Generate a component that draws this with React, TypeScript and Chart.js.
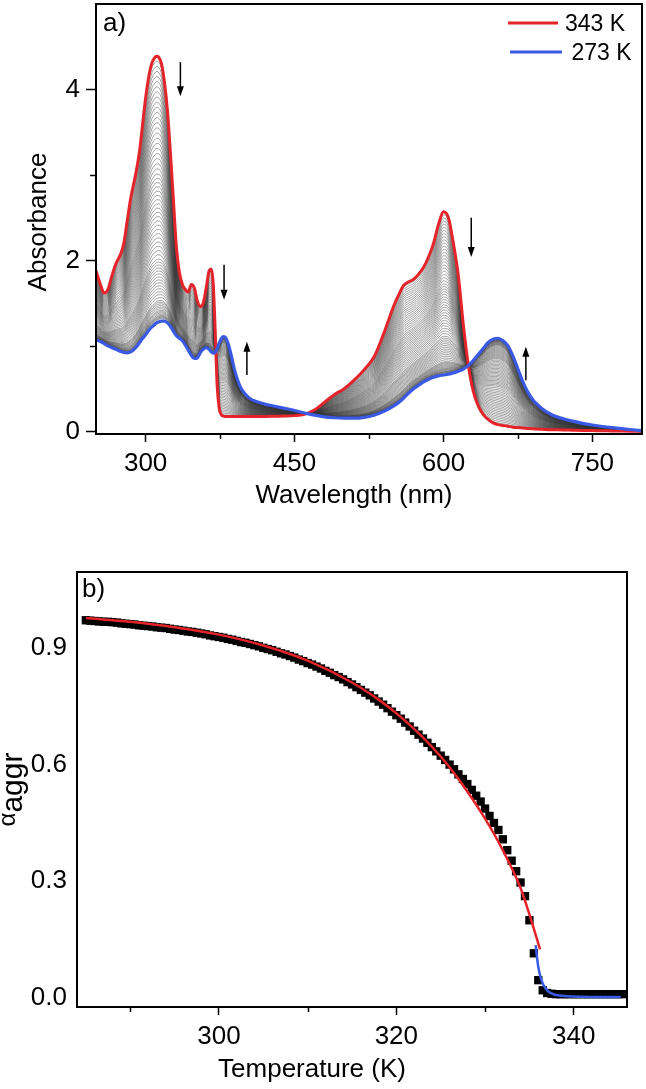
import React, { useEffect, useRef } from "react";
import { Chart, registerables } from "chart.js";

Chart.register(...registerables);

const FONT = "'Liberation Sans', Arial, Helvetica, sans-serif";

// ---------------- panel a : UV-vis spectra ----------------
const wavelengthNm = [
  250, 255, 258, 262, 266, 270, 275, 278, 281, 285, 290, 294, 297, 300, 303, 306, 309, 311, 313, 316,
  319, 322, 325, 328, 331, 334, 337, 340, 343, 346, 349, 352, 355, 358, 361, 364, 366, 368, 370, 372,
  374, 376, 378, 380, 383, 386, 390, 395, 400, 405, 410, 420, 430, 440, 450, 460, 470, 480, 490, 500,
  510, 520, 530, 540, 550, 555, 560, 565, 570, 575, 580, 585, 590, 595, 600, 605, 610, 615, 620, 625,
  630, 635, 640, 645, 650, 655, 660, 665, 670, 675, 680, 685, 690, 695, 700, 710, 720, 730, 740, 750,
  760, 770, 780, 790, 800,
];
const absorbance343K = [
  1.88, 1.7, 1.62, 1.66, 1.82, 1.96, 2.08, 2.2, 2.43, 2.73, 3.01, 3.29, 3.6, 3.9, 4.14, 4.3, 4.37, 4.39, 4.38, 4.3,
  4.08, 3.75, 3.25, 2.7, 2.15, 1.86, 1.72, 1.66, 1.63, 1.72, 1.68, 1.53, 1.46, 1.5, 1.68, 1.88, 1.9, 1.74, 1.2, 0.55,
  0.28, 0.2, 0.18, 0.175, 0.175, 0.175, 0.175, 0.175, 0.175, 0.175, 0.175, 0.175, 0.178, 0.18, 0.185, 0.2, 0.25, 0.34, 0.43, 0.5,
  0.6, 0.72, 0.87, 1.15, 1.47, 1.6, 1.71, 1.75, 1.78, 1.84, 1.92, 2.04, 2.2, 2.42, 2.57, 2.5, 2.2, 1.82, 1.25, 0.78,
  0.47, 0.3, 0.2, 0.14, 0.1, 0.08, 0.07, 0.06, 0.05, 0.045, 0.04, 0.035, 0.03, 0.028, 0.025, 0.02, 0.018, 0.015, 0.012, 0.01,
  0.008, 0.006, 0.004, 0.002, 0.0,
];
const absorbance273K = [
  1.07, 1.05, 1.03, 1.0, 0.98, 0.96, 0.935, 0.925, 0.92, 0.93, 0.98, 1.04, 1.09, 1.13, 1.18, 1.22, 1.25, 1.27, 1.28, 1.29,
  1.29, 1.27, 1.23, 1.17, 1.12, 1.09, 1.06, 1.01, 0.95, 0.89, 0.855, 0.86, 0.92, 0.96, 0.98, 0.96, 0.93, 0.915, 0.925, 0.97,
  1.03, 1.08, 1.11, 1.105, 1.03, 0.9, 0.7, 0.53, 0.44, 0.385, 0.355, 0.32, 0.295, 0.27, 0.245, 0.215, 0.19, 0.17, 0.16, 0.155,
  0.155, 0.165, 0.19, 0.235, 0.3, 0.34, 0.39, 0.45, 0.5, 0.54, 0.58, 0.61, 0.635, 0.65, 0.66, 0.67, 0.685, 0.705, 0.73, 0.77,
  0.83, 0.9, 0.97, 1.04, 1.08, 1.09, 1.06, 1.0, 0.88, 0.73, 0.58, 0.46, 0.37, 0.31, 0.26, 0.19, 0.15, 0.12, 0.095, 0.075,
  0.058, 0.044, 0.032, 0.02, 0.01,
];
// absorbance at 311 nm of the intermediate (grey) spectra
const greyPeakAbs311 = [
  4.33, 4.27, 4.21, 4.15, 4.09, 4.03, 3.97, 3.91, 3.85, 3.79, 3.73, 3.67, 3.61, 3.55, 3.49, 3.43, 3.37, 3.31, 3.25, 3.19,
  3.13, 3.07, 3.01, 2.96, 2.91, 2.86, 2.81, 2.76, 2.71, 2.66, 2.61, 2.56, 2.51, 2.46, 2.41, 2.36, 2.31, 2.26, 2.21, 2.16,
  2.11, 2.06, 2.01, 1.975, 1.94, 1.905, 1.87, 1.835, 1.8, 1.765, 1.73, 1.695, 1.66, 1.625, 1.59, 1.555, 1.52, 1.5, 1.48, 1.46,
  1.44, 1.42, 1.4, 1.385, 1.37, 1.355, 1.34, 1.33, 1.32, 1.31, 1.3,
];
const legendLabelsA = ["343 K", " 273 K"];
const xTitleA = "Wavelength (nm)";
const yTitleA = "Absorbance";
const xTicksA = [300, 450, 600, 750];
const xMinorTicksA = [375, 525, 675];
const yTicksA = [0, 2, 4];
const yMinorTicksA = [1, 3];
const arrowNm = [335, 379, 402, 628, 683];
const arrowFromAbs = [4.32, 1.95, 0.66, 2.5, 0.6];
const arrowToAbs = [3.92, 1.54, 1.05, 2.04, 0.99];

// ---------------- panel b : degree of aggregation ----------------
const temperatureK = [
  285, 285.5, 286, 286.5, 287, 287.5, 288, 288.5, 289, 289.5,
  290, 290.5, 291, 291.5, 292, 292.5, 293, 293.5, 294, 294.5,
  295, 295.5, 296, 296.5, 297, 297.5, 298, 298.5, 299, 299.5,
  300, 300.5, 301, 301.5, 302, 302.5, 303, 303.5, 304, 304.5,
  305, 305.5, 306, 306.5, 307, 307.5, 308, 308.5, 309, 309.5,
  310, 310.5, 311, 311.5, 312, 312.5, 313, 313.5, 314, 314.5,
  315, 315.5, 316, 316.5, 317, 317.5, 318, 318.5, 319, 319.5,
  320, 320.5, 321, 321.5, 322, 322.5, 323, 323.5, 324, 324.5,
  325, 325.5, 326, 326.5, 327, 327.5, 328, 328.5, 329, 329.5,
  330, 330.5, 331, 331.5, 332, 332.5, 333, 333.5, 334, 334.5,
  335, 335.5, 336, 336.5, 337, 337.5, 338, 338.5, 339, 339.5,
  340, 340.5, 341, 341.5, 342, 342.5, 343, 343.5, 344, 344.5,
  345, 345.5,
];
const alphaAggr = [
  0.971, 0.97, 0.969, 0.968, 0.967, 0.967, 0.966, 0.965, 0.963, 0.962,
  0.961, 0.96, 0.958, 0.957, 0.956, 0.955, 0.953, 0.952, 0.951, 0.949,
  0.947, 0.946, 0.944, 0.942, 0.941, 0.939, 0.937, 0.935, 0.932, 0.93,
  0.928, 0.926, 0.923, 0.921, 0.918, 0.915, 0.913, 0.91, 0.907, 0.904,
  0.9, 0.897, 0.894, 0.89, 0.886, 0.883, 0.879, 0.875, 0.87, 0.866,
  0.861, 0.857, 0.852, 0.847, 0.841, 0.836, 0.83, 0.825, 0.819, 0.812,
  0.806, 0.799, 0.792, 0.785, 0.778, 0.77, 0.762, 0.754, 0.745, 0.736,
  0.727, 0.718, 0.708, 0.698, 0.687, 0.677, 0.667, 0.656, 0.645, 0.634,
  0.623, 0.612, 0.6, 0.588, 0.575, 0.563, 0.55, 0.535, 0.52, 0.505,
  0.487, 0.468, 0.45, 0.432, 0.408, 0.38, 0.353, 0.326, 0.297, 0.262,
  0.2, 0.115, 0.046, 0.02, 0.013, 0.011, 0.01, 0.01, 0.01, 0.01,
  0.01, 0.01, 0.01, 0.01, 0.01, 0.01, 0.01, 0.01, 0.01, 0.01,
  0.01, 0.01,
];
const fitElongationT = [285, 290, 295, 300, 305, 310, 315, 318, 320, 322, 324, 326, 328, 330, 332, 334, 335, 336.2];
const fitElongationAlpha = [0.977, 0.967, 0.953, 0.934, 0.906, 0.867, 0.811, 0.767, 0.732, 0.692, 0.646, 0.593, 0.531, 0.461, 0.38, 0.283, 0.215, 0.125];
const fitNucleationT = [335.7, 336, 336.3, 336.6, 337, 337.5, 338, 339, 340, 342, 345.3];
const fitNucleationAlpha = [0.136, 0.08, 0.05, 0.033, 0.02, 0.012, 0.008, 0.005, 0.004, 0.003, 0.003];
const xTitleB = "Temperature (K)";
const xTicksB = [300, 320, 340];
const xMinorTicksB = [290, 310, 330];
const yTicksB = [0, 0.3, 0.6, 0.9];

const RED = "#e3242b";
const BLUE = "#3a5ae4";
const FS = 26;

function frameAndMinor(chart: any, xMinor: number[], xLen: number, yMinor: number[], yLen: number) {
  const { ctx, chartArea: a } = chart;
  const xs = chart.scales.x;
  const ys = chart.scales.y;
  ctx.save();
  ctx.strokeStyle = "#000";
  ctx.lineWidth = 1.5;
  ctx.beginPath();
  xMinor.forEach((v) => {
    const px = Math.round(xs.getPixelForValue(v)) + 0.5;
    ctx.moveTo(px, a.bottom);
    ctx.lineTo(px, a.bottom + xLen);
  });
  yMinor.forEach((v) => {
    const py = Math.round(ys.getPixelForValue(v)) + 0.5;
    ctx.moveTo(a.left, py);
    ctx.lineTo(a.left - yLen, py);
  });
  ctx.stroke();
  ctx.lineWidth = 2;
  ctx.strokeRect(a.left, a.top, a.right - a.left, a.bottom - a.top);
  ctx.restore();
}

function tickSetter(values: number[]) {
  return (scale: any) => {
    scale.ticks = values.map((v) => ({ value: v }));
  };
}

function fitX(h: number) {
  return (s: any) => {
    s.height = h;
    s.paddingLeft = 0;
    s.paddingRight = 0;
  };
}
function fitY(w: number) {
  return (s: any) => {
    s.width = w;
    s.paddingTop = 0;
    s.paddingBottom = 0;
  };
}

export default function App() {
  const refA = useRef<HTMLCanvasElement>(null);
  const refB = useRef<HTMLCanvasElement>(null);

  useEffect(() => {
    Chart.defaults.font.family = FONT;
    Chart.defaults.color = "#000";

    // ---------- chart a ----------
    const i311 = wavelengthNm.indexOf(311);
    const span = absorbance343K[i311] - absorbance273K[i311];
    const greyDatasets = greyPeakAbs311.map((p) => {
      const f = (absorbance343K[i311] - p) / span; // fraction of the 273 K spectrum
      return {
        label: "",
        data: wavelengthNm.map((w, j) => ({
          x: w,
          y: f * absorbance273K[j] + (1 - f) * absorbance343K[j],
        })),
        borderColor: "rgba(50,50,50,0.75)",
        borderWidth: 0.6,
        pointRadius: 0,
        cubicInterpolationMode: "monotone" as const,
      };
    });

    const decorA = {
      id: "decorA",
      afterDatasetsDraw(chart: any) {
        const { ctx } = chart;
        const xs = chart.scales.x;
        const ys = chart.scales.y;
        frameAndMinor(chart, xMinorTicksA, 5, yMinorTicksA, 6);
        ctx.save();
        ctx.strokeStyle = "#000";
        ctx.fillStyle = "#000";
        ctx.lineWidth = 1.5;
        arrowNm.forEach((nm, i) => {
          const x = xs.getPixelForValue(nm);
          const y0 = ys.getPixelForValue(arrowFromAbs[i]);
          const y1 = ys.getPixelForValue(arrowToAbs[i]);
          const dir = y1 > y0 ? 1 : -1;
          ctx.beginPath();
          ctx.moveTo(x, y0);
          ctx.lineTo(x, y1 - dir * 8);
          ctx.stroke();
          ctx.beginPath();
          ctx.moveTo(x, y1);
          ctx.lineTo(x - 3.5, y1 - dir * 10);
          ctx.lineTo(x + 3.5, y1 - dir * 10);
          ctx.closePath();
          ctx.fill();
        });
        ctx.textBaseline = "alphabetic";
        ctx.textAlign = "left";
        ctx.font = `26px ${FONT}`;
        ctx.fillText("a)", 103, 31);
        // legend
        const colors = [RED, BLUE];
        const rows = [23, 52];
        ctx.font = `23px ${FONT}`;
        legendLabelsA.forEach((lab, i) => {
          ctx.strokeStyle = colors[i];
          ctx.lineWidth = 3;
          ctx.beginPath();
          ctx.moveTo(508 + i * 2, rows[i]);
          ctx.lineTo(558 + i * 4, rows[i]);
          ctx.stroke();
          ctx.fillStyle = "#000";
          ctx.fillText(lab, 565, rows[i] + 8);
        });
        // axis titles
        ctx.font = `${FS}px ${FONT}`;
        ctx.textAlign = "center";
        ctx.fillText(xTitleA, 354, 503);
        ctx.translate(46, 222);
        ctx.rotate(-Math.PI / 2);
        ctx.fillText(yTitleA, 0, 0);
        ctx.restore();
      },
    };

    const chartA = new Chart(refA.current as HTMLCanvasElement, {
      type: "line",
      data: {
        datasets: [
          {
            label: legendLabelsA[1],
            data: wavelengthNm.map((w, j) => ({ x: w, y: absorbance273K[j] })),
            borderColor: BLUE,
            borderWidth: 3.2,
            pointRadius: 0,
            cubicInterpolationMode: "monotone",
          },
          {
            label: legendLabelsA[0],
            data: wavelengthNm.map((w, j) => ({ x: w, y: absorbance343K[j] })),
            borderColor: RED,
            borderWidth: 3,
            pointRadius: 0,
            cubicInterpolationMode: "monotone",
          },
          ...greyDatasets,
        ] as any,
      },
      options: {
        animation: false,
        responsive: false,
        events: [],
        layout: { padding: { top: 4, right: 4, left: 0, bottom: 0 } },
        plugins: { legend: { display: false }, tooltip: { enabled: false } },
        scales: {
          x: {
            type: "linear",
            min: 250,
            max: 800,
            afterBuildTicks: tickSetter(xTicksA),
            afterFit: fitX(86),
            ticks: { font: { size: FS }, color: "#000", padding: 6, maxRotation: 0, autoSkip: false },
            grid: { drawOnChartArea: false, drawTicks: true, tickLength: 8, tickWidth: 1.5, tickColor: "#000" },
            border: { display: false },
          },
          y: {
            type: "linear",
            min: -0.03,
            max: 5.0,
            afterBuildTicks: tickSetter(yTicksA),
            afterFit: fitY(96),
            ticks: { font: { size: FS }, color: "#000", padding: 6, callback: (v: any) => String(v) },
            grid: { drawOnChartArea: false, drawTicks: true, tickLength: 10, tickWidth: 1.5, tickColor: "#000" },
            border: { display: false },
          },
        },
      },
      plugins: [decorA],
    });

    // ---------- chart b ----------
    const decorB = {
      id: "decorB",
      afterDatasetsDraw(chart: any) {
        const { ctx } = chart;
        frameAndMinor(chart, xMinorTicksB, 5, [], 0);
        ctx.save();
        ctx.fillStyle = "#000";
        ctx.font = `26px ${FONT}`;
        ctx.textAlign = "left";
        ctx.textBaseline = "alphabetic";
        ctx.fillText("b)", 82, 77);
        ctx.font = `${FS}px ${FONT}`;
        ctx.textAlign = "center";
        ctx.fillText(xTitleB, 312, 557);
        ctx.textAlign = "left";
        // rotated y-axis title alpha_aggr
        const cy = (chart.chartArea.top + chart.chartArea.bottom) / 2;
        ctx.translate(0, cy);
        ctx.rotate(-Math.PI / 2);
        ctx.font = `24px ${FONT}`;
        const wA = ctx.measureText("α").width;
        ctx.font = `30px ${FONT}`;
        const wS = ctx.measureText("aggr").width;
        const u0 = -(wA + wS) / 2;
        ctx.font = `24px ${FONT}`;
        ctx.fillText("α", u0, 15);
        ctx.font = `30px ${FONT}`;
        ctx.fillText("aggr", u0 + wA, 22);
        ctx.restore();
      },
    };

    const chartB = new Chart(refB.current as HTMLCanvasElement, {
      type: "line",
      data: {
        datasets: [
          {
            label: "fit",
            data: fitElongationT.map((t, i) => ({ x: t, y: fitElongationAlpha[i] })),
            borderColor: RED,
            borderWidth: 2.5,
            pointRadius: 0,
            cubicInterpolationMode: "monotone",
          },
          {
            label: "fit2",
            data: fitNucleationT.map((t, i) => ({ x: t, y: fitNucleationAlpha[i] })),
            borderColor: BLUE,
            borderWidth: 2.5,
            pointRadius: 0,
            cubicInterpolationMode: "monotone",
          },
          {
            label: "data",
            data: temperatureK.map((t, i) => ({ x: t, y: alphaAggr[i] })),
            showLine: false,
            pointStyle: "rect",
            pointRadius: 5.9,
            pointBackgroundColor: "#000",
            pointBorderWidth: 0,
            borderColor: "#000",
          },
        ] as any,
      },
      options: {
        animation: false,
        responsive: false,
        events: [],
        layout: { padding: { top: 52, right: 19, left: 0, bottom: 0 } },
        plugins: { legend: { display: false }, tooltip: { enabled: false } },
        scales: {
          x: {
            type: "linear",
            min: 284,
            max: 346,
            afterBuildTicks: tickSetter(xTicksB),
            afterFit: fitX(82),
            ticks: { font: { size: FS }, color: "#000", padding: 6, maxRotation: 0, autoSkip: false },
            grid: { drawOnChartArea: false, drawTicks: true, tickLength: 8, tickWidth: 1.5, tickColor: "#000" },
            border: { display: false },
          },
          y: {
            type: "linear",
            min: -0.023,
            max: 1.095,
            afterBuildTicks: tickSetter(yTicksB),
            afterFit: fitY(77),
            ticks: { font: { size: FS }, color: "#000", padding: 10, callback: (v: any) => Number(v).toFixed(1) },
            grid: { display: false, drawOnChartArea: false, drawTicks: false },
            border: { display: false },
          },
        },
      },
      plugins: [decorB],
    });

    return () => {
      chartA.destroy();
      chartB.destroy();
    };
  }, []);

  return (
    <div style={{ position: "fixed", left: 0, top: 0, width: 646, height: 1089, background: "#fff" }}>
      <canvas ref={refA} width={646} height={520} style={{ position: "absolute", left: 0, top: 0 }} />
      <canvas ref={refB} width={646} height={569} style={{ position: "absolute", left: 0, top: 520 }} />
    </div>
  );
}
